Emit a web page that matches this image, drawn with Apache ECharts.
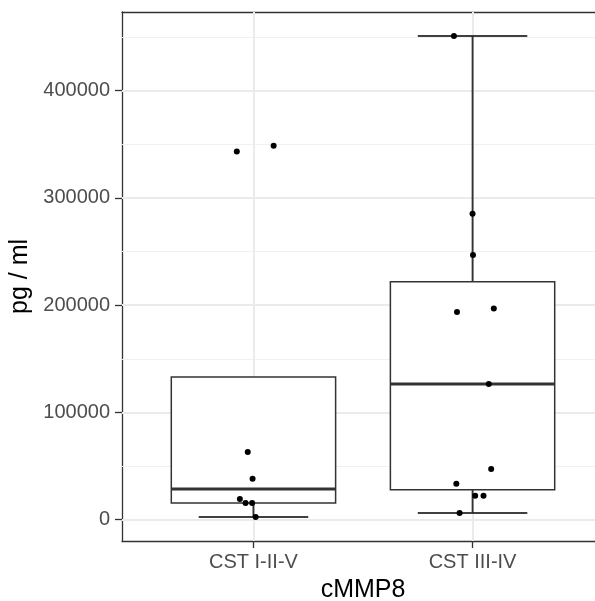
<!DOCTYPE html>
<html>
<head>
<meta charset="utf-8">
<script src="https://cdn.jsdelivr.net/npm/echarts@6/dist/echarts.min.js"></script>
<style>
  html, body { margin: 0; padding: 0; background: #fff; }
</style>
</head>
<body>
<!-- echart容器必须设置高度 -->
<div id="chart" style="width:595px;height:601px;"></div>
<script>
// categories and box statistics
const categories = ["CST I-II-V", "CST III-IV"];
const whiskerLow = [2500, 6200];
const q1 = [15500, 27900];
const median = [28650, 126500];
const q3 = [133100, 221850];
const whiskerHigh = [63000, 450900];

// jittered raw points per group: values and horizontal offsets (category units)
const pointsA = [343300, 348600, 63000, 38100, 19200, 15500, 15500, 2500];
const jitterA = [-0.076, 0.092, -0.026, -0.004, -0.062, -0.036, -0.006, 0.010];
const pointsB = [450900, 285300, 246800, 193500, 196900, 126500, 47200, 33500, 22300, 22300, 6200];
const jitterB = [-0.085, 0.000, 0.002, -0.071, 0.097, 0.074, 0.085, -0.074, 0.012, 0.050, -0.059];

// axis ticks
const yTicks = [0, 100000, 200000, 300000, 400000];
const yMinor = [50000, 150000, 250000, 350000, 450000];
const xTicks = [1, 2];

const FONT = "'Liberation Sans', Arial, sans-serif";
const BORDER = { color: "#333", width: 1.3 };

let chart = echarts.init(document.getElementById("chart"));

const boxData = categories.map((c, i) => [i + 1, whiskerLow[i], q1[i], median[i], q3[i], whiskerHigh[i]]);
const pointData = pointsA.map((v, i) => [1 + jitterA[i], v])
  .concat(pointsB.map((v, i) => [2 + jitterB[i], v]));

function renderBox(params, api) {
  const x = api.value(0);
  const pLo = api.coord([x, api.value(1)]);
  const pQ1 = api.coord([x, api.value(2)]);
  const pMd = api.coord([x, api.value(3)]);
  const pQ3 = api.coord([x, api.value(4)]);
  const pHi = api.coord([x, api.value(5)]);
  const cx = pLo[0];
  const boxW = api.size([0.75, 0])[0];
  const capW = api.size([0.5, 0])[0];
  const line = (x1, y1, x2, y2, color, w) => ({
    type: "line",
    shape: { x1: x1, y1: y1, x2: x2, y2: y2 },
    style: { stroke: color, lineWidth: w }
  });
  return {
    type: "group",
    children: [
      // errorbar (drawn first, box covers it)
      line(cx, pLo[1], cx, pHi[1], "#000", 1.4),
      line(cx - capW / 2, pLo[1], cx + capW / 2, pLo[1], "#000", 1.4),
      line(cx - capW / 2, pHi[1], cx + capW / 2, pHi[1], "#000", 1.4),
      // whiskers
      line(cx, pQ1[1], cx, pLo[1], "#333", 1.5),
      line(cx, pQ3[1], cx, pHi[1], "#333", 1.5),
      // box
      {
        type: "rect",
        shape: { x: cx - boxW / 2, y: pQ3[1], width: boxW, height: pQ1[1] - pQ3[1] },
        style: { fill: "#fff", stroke: "#333", lineWidth: 1.5 }
      },
      // median
      line(cx - boxW / 2, pMd[1], cx + boxW / 2, pMd[1], "#333", 3)
    ]
  };
}

let gridLines = []
  .concat(yMinor.map(v => ({ yAxis: v, lineStyle: { color: "#F0F0F0", width: 1, type: "solid" } })))
  .concat(yTicks.map(v => ({ yAxis: v, lineStyle: { color: "#EBEBEB", width: 2, type: "solid" } })))
  .concat(xTicks.map(v => ({ xAxis: v, lineStyle: { color: "#EBEBEB", width: 2, type: "solid" } })));

let option = {
  animation: false,
  textStyle: { fontFamily: FONT },
  grid: {
    left: 122,
    right: -9,
    top: 12,
    bottom: 60,
    outerBoundsMode: "none",
    containLabel: false
  },
  xAxis: [
    {
      type: "value",
      min: 0.4,
      max: 2.6,
      name: "cMMP8",
      nameLocation: "middle",
      nameGap: 37,
      nameTextStyle: { color: "#000", fontSize: 25, fontFamily: FONT },
      axisLine: { show: true, onZero: false, lineStyle: BORDER },
      axisTick: { show: true, length: 7, customValues: xTicks, lineStyle: BORDER },
      axisLabel: {
        customValues: xTicks,
        margin: 11,
        color: "#4D4D4D",
        fontSize: 20,
        fontFamily: FONT,
        formatter: v => categories[Math.round(v) - 1]
      },
      splitLine: { show: false }
    },
    {
      // top edge of the panel
      type: "value",
      position: "top",
      min: 0.4,
      max: 2.6,
      axisLine: { show: true, onZero: false, lineStyle: BORDER },
      axisTick: { show: false },
      axisLabel: { show: false },
      splitLine: { show: false }
    }
  ],
  yAxis: {
    type: "value",
    min: -19920,
    max: 473320,
    name: "pg / ml",
    nameLocation: "middle",
    nameRotate: 90,
    nameGap: 85,
    nameTextStyle: { color: "#000", fontSize: 25, fontFamily: FONT },
    axisLine: { show: true, onZero: false, lineStyle: BORDER },
    axisTick: { show: true, length: 7, customValues: yTicks, lineStyle: BORDER },
    axisLabel: {
      customValues: yTicks,
      margin: 12,
      color: "#4D4D4D",
      fontSize: 20,
      fontFamily: FONT,
      formatter: v => String(v)
    },
    splitLine: { show: false }
  },
  series: [
    {
      // gridlines only
      type: "line",
      data: [],
      silent: true,
      z: 1,
      markLine: {
        silent: true,
        z: 1,
        symbol: "none",
        label: { show: false },
        animation: false,
        data: gridLines
      }
    },
    {
      type: "custom",
      z: 2,
      renderItem: renderBox,
      encode: { x: 0, y: [1, 2, 3, 4, 5] },
      data: boxData
    },
    {
      type: "scatter",
      z: 3,
      symbolSize: 6,
      itemStyle: { color: "#000", opacity: 1 },
      data: pointData
    }
  ]
};

chart.setOption(option);
window.addEventListener("resize", function() {
  chart.resize();
});
</script>
</body>
</html>
